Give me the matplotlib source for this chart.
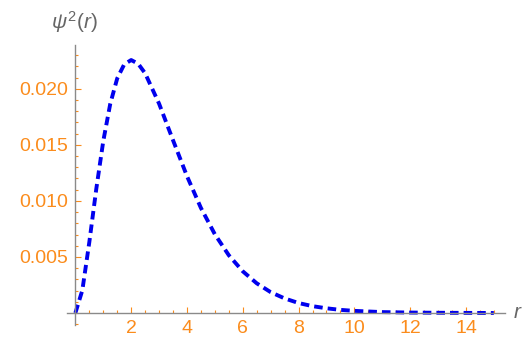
import matplotlib.pyplot as plt
from matplotlib.ticker import FixedLocator, MultipleLocator

# values
r_vals = [0, 0.25, 0.5, 0.75, 1, 1.25, 1.5, 1.75, 2, 2.25, 2.5, 3, 3.5, 4, 4.5, 5,
          5.5, 6, 6.5, 7, 7.5, 8, 8.5, 9, 9.5, 10, 11, 12, 13, 14, 15]
psi2_vals = [0, 0.00203, 0.00632, 0.01107, 0.01533, 0.01865, 0.02092, 0.02217, 0.02256,
             0.02223, 0.02138, 0.01867, 0.01541, 0.01221, 0.00937, 0.00702,
             0.00515, 0.00372, 0.00265, 0.00186, 0.00130, 0.00089, 0.00061, 0.00042,
             0.00028, 0.00019, 0.00008, 0.00004, 0.00002, 0.00001, 0.0]

x_ticks = [2, 4, 6, 8, 10, 12, 14]
x_ticklabels = ["2", "4", "6", "8", "10", "12", "14"]
y_ticks = [0.005, 0.010, 0.015, 0.020]
y_ticklabels = ["0.005", "0.010", "0.015", "0.020"]

orange = "#fb8c1c"
axis_gray = "#8a8a8a"
label_gray = "#666666"

plt.rcParams["font.family"] = ["Liberation Sans", "DejaVu Sans"]
plt.rcParams["mathtext.fontset"] = "custom"
plt.rcParams["mathtext.rm"] = "Liberation Sans"
plt.rcParams["mathtext.it"] = "Liberation Sans:italic"

fig = plt.figure(figsize=(5.32, 3.45), dpi=100)
# axes box spans the drawn axis lines
ax = fig.add_axes([67 / 532, (345 - 325) / 345, (505 - 67) / 532, (325 - 45) / 345])
ax.set_xlim(-0.3, 15.4)
ax.set_ylim(-0.00107, 0.0239)

ax.plot(r_vals, psi2_vals, color="#0000ee", lw=2.8, dashes=(2.2, 1.3),
        dash_capstyle="butt", solid_capstyle="butt")

for side in ["top", "right"]:
    ax.spines[side].set_visible(False)
ax.spines["left"].set_position(("data", 0))
ax.spines["bottom"].set_position(("data", 0))
for side in ["left", "bottom"]:
    ax.spines[side].set_color(axis_gray)
    ax.spines[side].set_linewidth(1.0)

ax.xaxis.set_major_locator(FixedLocator(x_ticks))
ax.set_xticklabels(x_ticklabels)
ax.yaxis.set_major_locator(FixedLocator(y_ticks))
ax.set_yticklabels(y_ticklabels)
ax.xaxis.set_minor_locator(MultipleLocator(0.5))
ax.yaxis.set_minor_locator(MultipleLocator(0.001))

ax.tick_params(which="both", direction="in", color=orange, width=0.8)
ax.tick_params(which="major", length=4, labelsize=14, labelcolor=orange, pad=5)
ax.tick_params(which="minor", length=2)

fig.text(51 / 532, 1 - 22 / 345, r"$\psi^2(r)$", color=label_gray, fontsize=15,
         ha="left", va="center")
fig.text(513 / 532, 1 - 313 / 345, r"$r$", color=label_gray, fontsize=15,
         ha="left", va="center")

fig.savefig("out.png", dpi=100)
